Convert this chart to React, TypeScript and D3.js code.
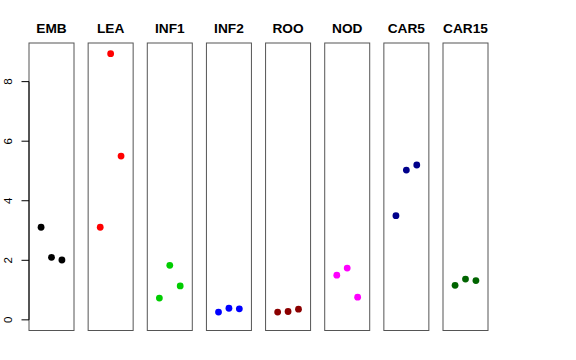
import React from "react";
import * as d3 from "d3";

const panels = ["EMB", "LEA", "INF1", "INF2", "ROO", "NOD", "CAR5", "CAR15"];
const colors = ["#000000", "#FF0000", "#00CD00", "#0000FF", "#8B0000", "#FF00FF", "#00008B", "#006400"];
const values: number[][] = [
  [3.11, 2.1, 2.01],
  [3.11, 8.94, 5.5],
  [0.73, 1.83, 1.14],
  [0.26, 0.39, 0.37],
  [0.26, 0.28, 0.36],
  [1.5, 1.74, 0.76],
  [3.5, 5.03, 5.2],
  [1.16, 1.37, 1.32],
];
const yTicks = [0, 2, 4, 6, 8];

const W = 576;
const H = 360;

export default function App() {
  const all = values.flat();
  const lo = Math.min(0, d3.min(all)!);
  const hi = d3.max(all)!;
  const pad = (hi - lo) * 0.04;
  const y = d3.scaleLinear().domain([lo - pad, hi + pad]).range([330.5, 43]);
  const px = d3.scaleLinear().domain([0, panels.length - 1]).range([29, 443]);
  const pw = 45;
  const x = d3.scaleLinear().domain([-0.16, 4.16]).range([0, pw]);

  return (
    <svg width={W} height={H} style={{ position: "absolute", left: 0, top: 0, background: "#fff" }}>
      {panels.map((p, i) => {
        const x0 = px(i);
        return (
          <g key={p} transform={`translate(${x0},0)`}>
            <text
              x={pw / 2}
              y={33}
              textAnchor="middle"
              fontFamily="Liberation Sans, Arial, sans-serif"
              fontWeight="bold"
              fontSize={13.7}
            >
              {p}
            </text>
            {values[i].map((v, j) => (
              <circle key={j} cx={x(j + 1)} cy={y(v)} r={3.4} fill={colors[i]} />
            ))}
            <rect x={0} y={43} width={pw} height={330.5 - 43} fill="none" stroke="#555" strokeWidth={1} />
          </g>
        );
      })}
      <g>
        <line x1={29} x2={29} y1={y(yTicks[0])} y2={y(yTicks[yTicks.length - 1])} stroke="#000" />
        {yTicks.map((t) => (
          <g key={t}>
            <line x1={21.5} x2={29} y1={y(t)} y2={y(t)} stroke="#000" />
            <text
              transform={`translate(12,${y(t)}) rotate(-90)`}
              textAnchor="middle"
              fontFamily="Liberation Sans, Arial, sans-serif"
              fontSize={11.5}
            >
              {t}
            </text>
          </g>
        ))}
      </g>
    </svg>
  );
}
